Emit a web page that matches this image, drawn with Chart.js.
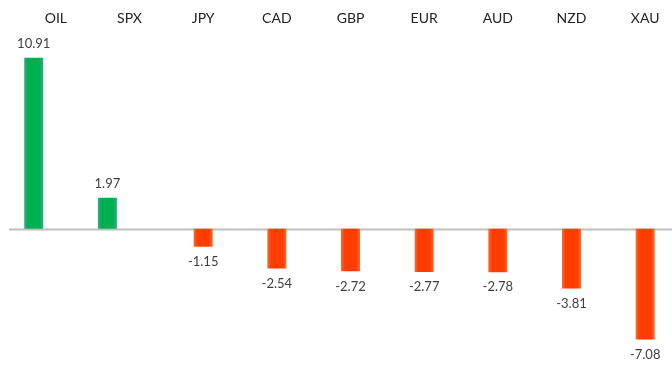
<!DOCTYPE html>
<html>
<head>
<meta charset="utf-8">
<script src="https://cdn.jsdelivr.net/npm/chart.js@4.4.1/dist/chart.umd.min.js"></script>
<style>
    html, body { margin: 0; padding: 0; background: #fff; overflow: hidden; }
    #wrap { width: 682px; height: 368px; }
</style>
</head>
<body>
<div id="wrap"><canvas id="chart-1"></canvas></div>
<script>
// weekly change, %
var labels = ["OIL", "SPX", "JPY", "CAD", "GBP", "EUR", "AUD", "NZD", "XAU"];
var changes = [10.91, 1.97, -1.15, -2.54, -2.72, -2.77, -2.78, -3.81, -7.08];

// Excel draws gains and losses as two series, so split them
var gains = changes.map(v => v >= 0 ? v : null);
var losses = changes.map(v => v < 0 ? v : null);
var spacer = changes.map(() => null);

// zero line across the whole width
const zeroLine = {
    id: "zeroLine",
    beforeDatasetsDraw(chart) {
        const ctx = chart.ctx;
        const y = Math.round(chart.scales.y.getPixelForValue(0)) + 0.5;
        ctx.save();
        ctx.strokeStyle = "#bfbfbf";
        ctx.lineWidth = 2;
        ctx.beginPath();
        ctx.moveTo(9, y);
        ctx.lineTo(chart.width, y);
        ctx.stroke();
        ctx.restore();
    }
};

// soft edges on the bars, like the Excel gradient fill
const barShade = {
    id: "barShade",
    beforeDatasetsDraw(chart) {
        const ctx = chart.ctx;
        chart.data.datasets.forEach((ds, di) => {
            if (!ds.shade) return;
            chart.getDatasetMeta(di).data.forEach(bar => {
                const x0 = bar.x - bar.width / 2;
                const g = ctx.createLinearGradient(x0, 0, x0 + bar.width, 0);
                g.addColorStop(0, ds.shade[0]);
                g.addColorStop(0.2, ds.shade[1]);
                g.addColorStop(0.8, ds.shade[1]);
                g.addColorStop(1, ds.shade[0]);
                bar.options.backgroundColor = g;
            });
        });
    }
};

// value labels above gains, below losses
const valueLabels = {
    id: "valueLabels",
    afterDatasetsDraw(chart) {
        const ctx = chart.ctx;
        ctx.save();
        ctx.font = "13px Lato";
        ctx.fillStyle = "#404040";
        ctx.textAlign = "center";
        ctx.textBaseline = "middle";
        chart.data.datasets.forEach((ds, di) => {
            chart.getDatasetMeta(di).data.forEach((bar, i) => {
                const v = ds.data[i];
                if (v === null) return;
                const y = v >= 0 ? bar.y - 14 : bar.y + 15;
                ctx.fillText(v.toFixed(2), bar.x, y);
            });
        });
        ctx.restore();
    }
};

const ctx = document.getElementById("chart-1").getContext("2d");
myChart = new Chart(ctx, {
    type: "bar",
    data: {
        labels: labels,
        datasets: [{
                label: "Gain",
                data: gains,
                backgroundColor: () => "#00b050", // function so each bar gets its own options
                shade: ["#30a98e", "#00b050"],
                barPercentage: 0.86,
                categoryPercentage: 0.9,
            },
            {
                label: "Loss",
                data: losses,
                backgroundColor: () => "#ff4000",
                shade: ["#ff6a30", "#ff3d00"],
                barPercentage: 0.86,
                categoryPercentage: 0.9,
            },
            {
                label: "",
                data: spacer,
                barPercentage: 0.86,
                categoryPercentage: 0.9,
            },
        ],
    },
    options: {
        responsive: true,
        maintainAspectRatio: false,
        animation: false,
        layout: {
            padding: { left: 19, right: 0, top: -4, bottom: 14 }
        },
        scales: {
            x: {
                position: "top",
                grid: { display: false, drawTicks: false },
                border: { display: false },
                ticks: {
                    color: "#222",
                    font: { family: "Lato", size: 14 },
                    padding: 14,
                    minRotation: 0,
                    maxRotation: 0,
                },
            },
            y: {
                display: false,
                min: -8,
                max: 12,
            },
        },
        plugins: {
            legend: { display: false },
            tooltip: { enabled: false },
        },
    },
    plugins: [zeroLine, barShade, valueLabels],
});
</script>
</body>
</html>
